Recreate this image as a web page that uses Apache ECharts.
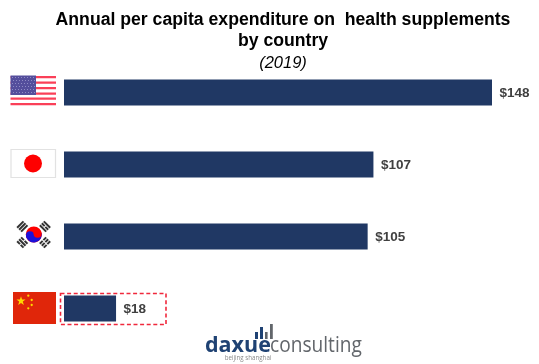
<!DOCTYPE html>
<html><head><meta charset="utf-8">
<style>html,body{margin:0;padding:0;background:#fff}#c{width:539px;height:364px}</style>
<script src="https://cdn.jsdelivr.net/npm/echarts@6/dist/echarts.min.js"></script>
</head><body><div id="c"></div>
<script>
const countries = ['United States','Japan','South Korea','China'];
const values = [148,107,105,18];
const titleLines = ['Annual per capita expenditure on  health supplements','by country'];
const subtitle = '(2019)';

const F = 'Liberation Sans';
const g = [];
const rect=(x,y,w,h,fill,extra)=>g.push(Object.assign({type:'rect',shape:{x,y,width:w,height:h},style:{fill},silent:true},extra||{}));
const circle=(cx,cy,r,fill)=>g.push({type:'circle',shape:{cx,cy,r},style:{fill},silent:true});
const text=(x,y,t,font,fill,align,sx)=>g.push({type:'text',x,y,scaleX:sx||1,style:{text:t,font,fill,textAlign:align||'center',textVerticalAlign:'middle'},silent:true});

// Title
text(283,20.5,titleLines[0],'bold 17.65px "'+F+'"','#000');
text(283,41.5,titleLines[1],'bold 17.65px "'+F+'"','#000');
text(283,63,subtitle,'italic 16.5px "'+F+'"','#000');

// US flag
[76,81.5,87,92.5,97.5,103].forEach(y=>rect(10.5,y,45.5,2.2,'#fa4058'));
rect(10.5,75.5,25.5,19.5,'#544e9c');
for(let r=0;r<6;r++)for(let c=0;c<8;c++){ rect(12+c*3+(r%2)*1,77+r*3,1,1,'#8f8bc4'); }

// Japan flag
rect(11,149.5,44.5,28,'#fff',{style:{fill:'#fff',stroke:'#e2e2e2',lineWidth:1.2}});
circle(33,163.5,9,'#fe0000');

// Korea flag
const tri=[[22.3,226.5,[1,1,1]],[45,226.5,[1,0,1]],[22.3,242.5,[0,1,0]],[45,242.5,[0,0,0]]];
tri.forEach(([cx,cy,p],k)=>{
  const rot=(k===0||k===3)? Math.PI/4 : -Math.PI/4;
  [-2.8,0,2.8].forEach((o,i)=>{
    const base={x:cx,y:cy,rotation:rot,silent:true};
    if(p[i]) g.push(Object.assign({type:'rect',shape:{x:-4.5,y:o-1,width:9,height:2},style:{fill:'#333'}},base));
    else { g.push(Object.assign({type:'rect',shape:{x:-4.5,y:o-1,width:4,height:2},style:{fill:'#333'}},base));
           g.push(Object.assign({type:'rect',shape:{x:0.5,y:o-1,width:4,height:2},style:{fill:'#333'}},base)); }
  });
});
circle(33.8,234.5,8,'#fe0000');
g.push({type:'sector',shape:{cx:33.8,cy:234.5,r:8,startAngle:-0.2,endAngle:-0.2+Math.PI},style:{fill:'#1c10d8'},silent:true});
circle(30,235.3,4,'#1c10d8');
circle(37.6,233.7,4,'#fe0000');

// China flag
rect(13,292,43,32,'#e0260a');
g.push({type:'polygon',shape:{points:[0,1,2,3,4,5,6,7,8,9].map(i=>{const a=-Math.PI/2+i*Math.PI/5,r=i%2?1.9:4.8;return [21+r*Math.cos(a),301+r*Math.sin(a)];})},style:{fill:'#ffd800'},silent:true});
[[28.3,295.7],[31.7,300],[31.7,305],[28.3,308.3]].forEach(p=>circle(p[0],p[1],1.15,'#ffd800'));

// Highlight box
rect(60.5,293.5,105.5,31,'none',{style:{fill:'none',stroke:'#f0283c',lineWidth:1.6,lineDash:[4,2.6]},z:10});

// Logo
rect(255,332,3,7,'#1f4273');
rect(260,327,3,12,'#1f4273');
rect(265,332,2.6,7,'#62666b');
rect(270,324,2.8,15,'#62666b');
text(205,346,'daxue','bold 21.5px "Open Sans"','#1f4273','left');
text(270,346,'consulting','22.5px "Open Sans"','#62666b','left',0.85);
text(248,358,'beijing shanghai','6.5px "Open Sans"','#8a8a8a','center',0.95);

const chart = echarts.init(document.getElementById('c'),null,{renderer:'canvas'});
chart.setOption({
  animation:false,
  backgroundColor:'#fff',
  grid:{left:64,top:56.5,width:428,height:288,containLabel:false},
  xAxis:{type:'value',min:0,max:148,show:false},
  yAxis:{type:'category',inverse:true,data:countries,show:false},
  series:[{type:'bar',data:values,barWidth:26,
    itemStyle:{color:'#203864'},
    label:{show:true,position:'right',distance:7.5,formatter:p=>'$'+p.value,
      fontFamily:F,fontWeight:'bold',fontSize:13.5,color:'#404040',offset:[0,1]}}],
  graphic:g
});
</script></body></html>
